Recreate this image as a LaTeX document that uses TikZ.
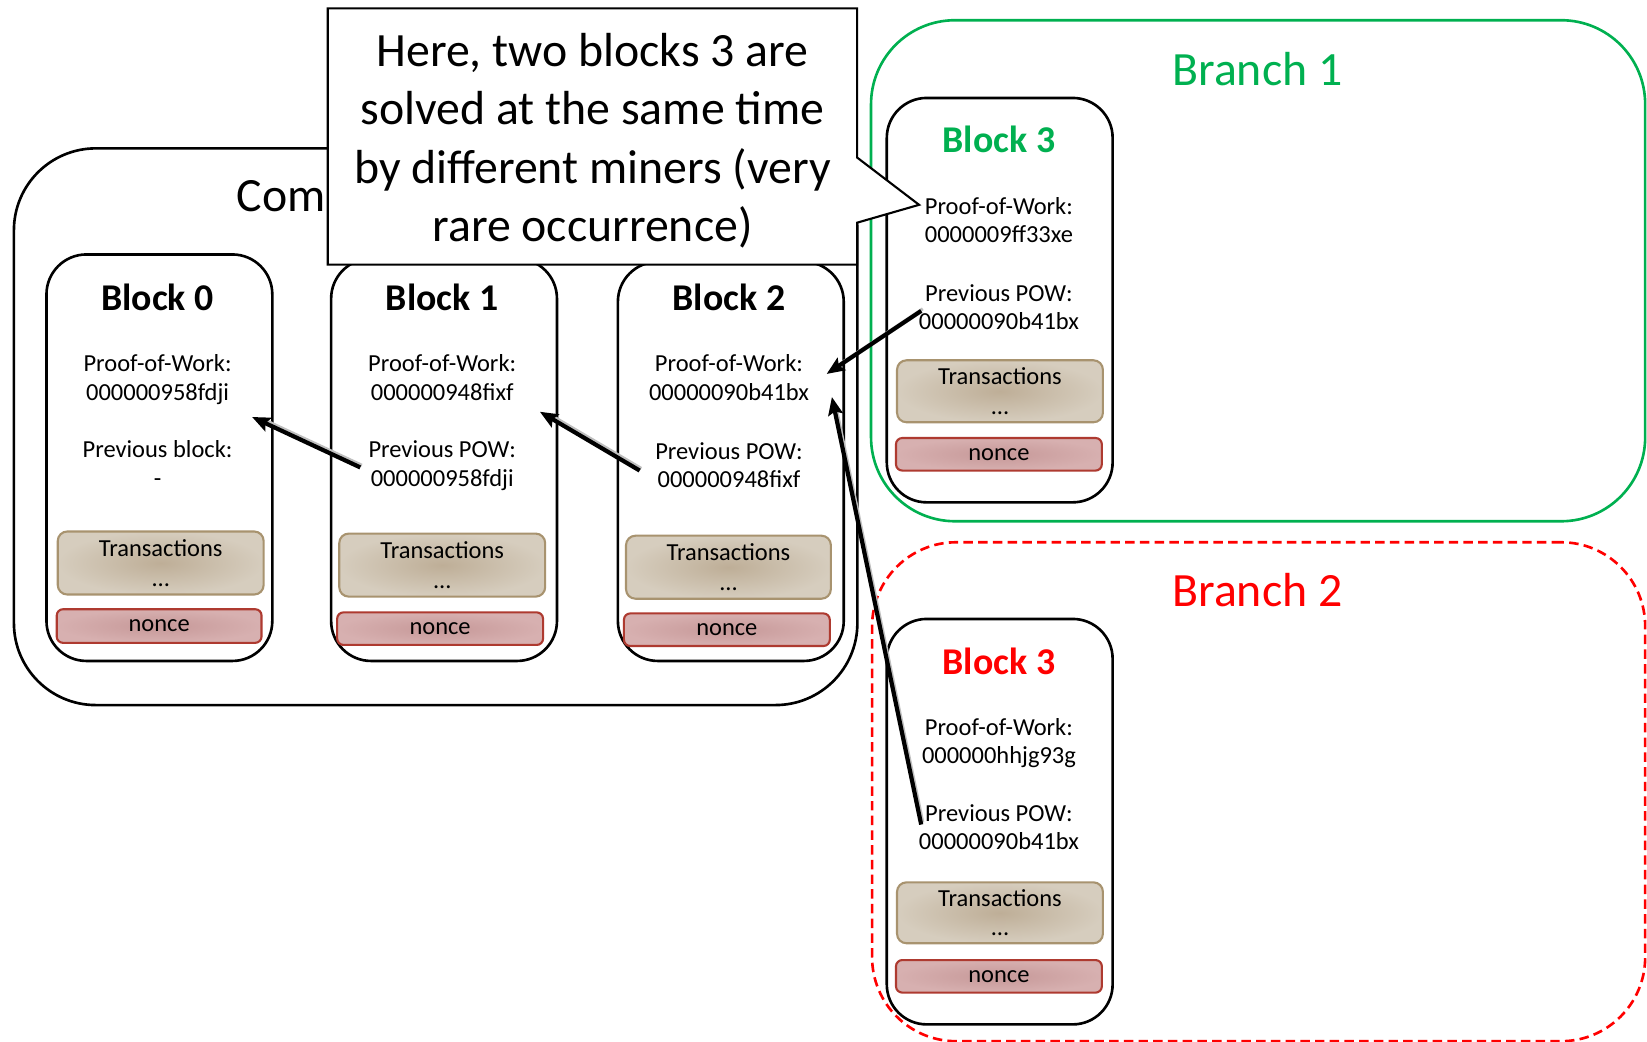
\documentclass[tikz,border=0pt]{standalone}
\usepackage{fontspec}
\setmainfont{Carlito}
\usetikzlibrary{arrows.meta}
\definecolor{grn}{HTML}{00B050}
\definecolor{rd}{HTML}{FF0000}
\definecolor{transin}{HTML}{BEAE97}
\definecolor{transout}{HTML}{D6CDBE}
\definecolor{transbd}{HTML}{A8936F}
\definecolor{noncein}{HTML}{C69898}
\definecolor{nonceout}{HTML}{D7B0B0}
\definecolor{noncebd}{HTML}{AE3A30}
\tikzset{
  blockbox/.style={draw, line width=2.5pt, rounded corners=38pt, fill=white, minimum width=215pt, anchor=north west, inner sep=0pt},
  ttl/.style={font=\fontsize{36}{43}\selectfont\bfseries, anchor=base, inner sep=0pt},
  body/.style={font=\fontsize{23.3}{28}\selectfont, anchor=base, inner sep=0pt},
  trans/.style={draw=transbd, line width=2pt, rounded corners=9pt, inner color=transin, outer color=transout, minimum width=196pt, minimum height=60pt, align=center, font=\fontsize{23.3}{28}\selectfont, anchor=north west, inner sep=0pt},
  noncebox/.style={draw=noncebd, line width=2pt, rounded corners=6pt, inner color=noncein, outer color=nonceout, minimum width=196pt, minimum height=31pt, font=\fontsize{23.3}{28}\selectfont, anchor=north west, inner sep=0pt, text height=11pt, text depth=0pt},
  big/.style={font=\fontsize{45.5}{55.3}\selectfont, inner sep=0pt},
  link/.style={line width=4pt, -{Stealth[length=17pt,width=14pt,inset=3pt]},
    preaction={draw=black!25, line width=3pt, -, shorten >=14pt, transform canvas={shift={(1.5pt,2pt)}}}}
}
\begin{document}
\begin{tikzpicture}[x=1pt,y=-1pt]
\useasboundingbox (0,0) rectangle (1568,992);
% common chain container
\node[draw, line width=2.5pt, rounded corners=78pt, minimum width=803pt, minimum height=530pt, anchor=north west, inner sep=0pt] (common) at (12,140) {};
\node[big, anchor=base west] (comlabel) at (225,201) {Com};
% Block 0
\node[blockbox, minimum height=387pt] (b0) at (43,241) {};
\node[ttl] (b0t) at (150,296) {Block 0};
\node[body] (b0pow) at (150,354) {Proof-of-Work:};
\node[body] (b0powv) at (150,381) {000000958fdji};
\node[body] (b0prev) at (150,436) {Previous block:};
\node[body] (b0prevv) at (150,463) {-};
\node[trans] (b0tr) at (54,505) {Transactions\\…};
\node[noncebox, minimum width=195pt, minimum height=32pt] (b0n) at (53,579) {nonce};
% Block 1
\node[blockbox, minimum height=383pt] (b1) at (314,245) {};
\node[ttl] (b1t) at (421,296) {Block 1};
\node[body] (b1pow) at (421,354) {Proof-of-Work:};
\node[body] (b1powv) at (421,381) {000000948fixf};
\node[body] (b1prev) at (421,436) {Previous POW:};
\node[body] (b1prevv) at (421,463) {000000958fdji};
\node[trans] (b1tr) at (322,507) {Transactions\\…};
\node[noncebox] (b1n) at (320,582) {nonce};
% Block 2
\node[blockbox, minimum height=380pt] (b2) at (587,248) {};
\node[ttl] (b2t) at (694,296) {Block 2};
\node[body] (b2pow) at (694,354) {Proof-of-Work:};
\node[body] (b2powv) at (694,381) {00000090b41bx};
\node[body] (b2prev) at (694,437) {Previous POW:};
\node[body] (b2prevv) at (694,464) {000000948fixf};
\node[trans, minimum width=195pt] (b2tr) at (595,509) {Transactions\\…};
\node[noncebox] (b2n) at (593,583) {nonce};
% Branch 1
\node[draw=grn, line width=2.5pt, rounded corners=80pt, minimum width=737pt, minimum height=477pt, anchor=north west, inner sep=0pt] (br1) at (828,18) {};
\node[big, text=grn, anchor=base] (br1t) at (1197,81) {Branch 1};
\node[blockbox, minimum height=385pt] (g3) at (843,92) {};
\node[ttl, text=grn] (g3t) at (951,145) {Block 3};
\node[body] (g3pow) at (951,204) {Proof-of-Work:};
\node[body] (g3powv) at (951,231) {0000009ff33xe};
\node[body] (g3prev) at (951,287) {Previous POW:};
\node[body] (g3prevv) at (951,314) {00000090b41bx};
\node[trans, minimum height=59pt] (g3tr) at (853,342) {Transactions\\…};
\node[noncebox] (g3n) at (852,416) {nonce};
% Branch 2
\node[draw=rd, line width=2.5pt, dash pattern=on 9pt off 5pt, rounded corners=80pt, minimum width=736pt, minimum height=475pt, anchor=north west, inner sep=0pt] (br2) at (829,515) {};
\node[big, text=rd, anchor=base] (br2t) at (1197,577) {Branch 2};
\node[blockbox, minimum height=386pt] (r3) at (843,588) {};
\node[ttl, text=rd] (r3t) at (951,642) {Block 3};
\node[body] (r3pow) at (951,700) {Proof-of-Work:};
\node[body] (r3powv) at (951,727) {000000hhjg93g};
\node[body] (r3prev) at (951,782) {Previous POW:};
\node[body] (r3prevv) at (951,809) {00000090b41bx};
\node[trans, minimum height=58pt] (r3tr) at (853,839) {Transactions\\…};
\node[noncebox] (r3n) at (852,913) {nonce};
% callout
\draw[line width=2pt, fill=white] (312,8) -- (816,8) -- (816,150) -- (875,195) -- (816,212) -- (816,252) -- (312,252) -- cycle;
\node[big, align=center] (callout) at (564,134) {Here, two blocks 3 are\\solved at the same time\\by different miners (very\\rare occurrence)};
% links
\coordinate (a1s) at (343,445); \coordinate (a1e) at (240,397);
\coordinate (a2s) at (609,448); \coordinate (a2e) at (514,392);
\coordinate (a3s) at (877,296); \coordinate (a3e) at (787,356);
\coordinate (a4s) at (877,785); \coordinate (a4e) at (792,378);
\draw[link] (a1s) -- (a1e);
\draw[link] (a2s) -- (a2e);
\draw[link] (a3s) -- (a3e);
\draw[link] (a4s) -- (a4e);
\end{tikzpicture}
\end{document}
